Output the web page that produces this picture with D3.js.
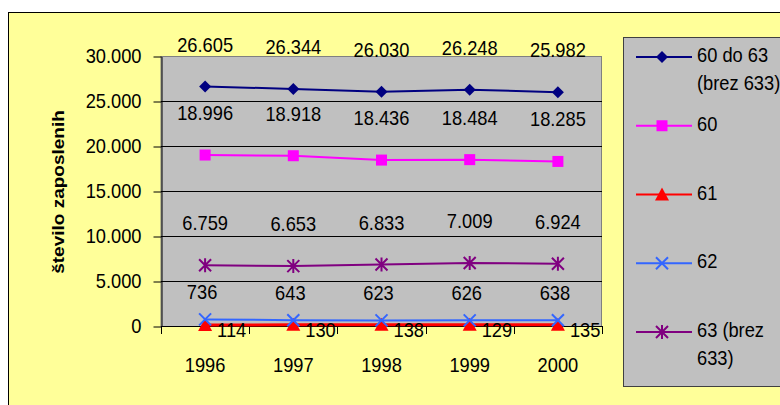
<!DOCTYPE html>
<html>
<head>
<meta charset="utf-8">
<script src="https://cdn.jsdelivr.net/npm/d3@7"></script>
<style>
  body { margin: 0; background: #fff; }
  text { font-family: "Liberation Sans", Arial, sans-serif; }
</style>
</head>
<body>
<div id="chart"></div>
<script>
const years = ["1996", "1997", "1998", "1999", "2000"];
const s6063 = [26605, 26344, 26030, 26248, 25982];
const s60 = [18996, 18918, 18436, 18484, 18285];
const s61 = [114, 130, 138, 129, 135];
const s62 = [736, 643, 623, 626, 638];
const s63 = [6759, 6653, 6833, 7009, 6924];
const yTicks = [0, 5000, 10000, 15000, 20000, 25000, 30000];
const seriesNames = [["60 do 63", "(brez 633)"], ["60"], ["61"], ["62"], ["63 (brez", "633)"]];

const fmt = d3.formatLocale({ decimal: ",", thousands: ".", grouping: [3], currency: ["", ""] }).format(",d");

const W = 780, H = 405;
const plot = { left: 161, right: 602, top: 56, bottom: 326 };
const SQ = 0.87; // the original text is a bit narrow

// move x/y into a transform so the glyphs can be squeezed
function squash(sel) {
  sel.each(function () {
    const t = d3.select(this);
    const tx = +t.attr("x") || 0, ty = +t.attr("y") || 0;
    t.attr("x", 0).attr("y", 0).attr("transform", `translate(${tx},${ty}) scale(${SQ},1)`);
  });
}

const svg = d3.select("#chart").append("svg")
  .attr("width", W)
  .attr("height", H);

// outer chart area
svg.append("rect")
  .attr("x", 8.5).attr("y", 12.5)
  .attr("width", 800).attr("height", 420)
  .attr("fill", "#FFFF99")
  .attr("stroke", "#000");

const x = d3.scaleBand().domain(years).range([plot.left, plot.right]);
const y = d3.scaleLinear().domain([0, 30000]).range([plot.bottom, plot.top]);

svg.append("rect")
  .attr("x", plot.left).attr("y", plot.top + 0.5)
  .attr("width", plot.right - plot.left - 0.5)
  .attr("height", plot.bottom - plot.top)
  .attr("fill", "#C0C0C0")
  .attr("stroke", "#808080");

// gridlines
svg.append("g")
  .selectAll("line")
  .data(yTicks.filter((d) => d > 0 && d < 30000))
  .enter()
  .append("line")
  .attr("x1", plot.left).attr("x2", plot.right)
  .attr("y1", (d) => Math.round(y(d)) + 0.5)
  .attr("y2", (d) => Math.round(y(d)) + 0.5)
  .attr("stroke", "#000");

// y axis
const yAxis = svg.append("g")
  .attr("transform", `translate(${plot.left + 0.5},0.5)`)
  .call(d3.axisLeft(y).tickValues(yTicks).tickSize(8).tickSizeOuter(0).tickPadding(12).tickFormat(fmt));
yAxis.selectAll("text")
  .style("font-family", "'Liberation Sans', Arial, sans-serif")
  .style("font-size", "21px")
  .attr("dy", "0.3em")
  .attr("fill", "#000")
  .call(squash);
yAxis.select(".domain").attr("stroke", "#000");

// x axis
const xg = svg.append("g");
xg.append("line")
  .attr("x1", plot.left).attr("x2", plot.right)
  .attr("y1", plot.bottom + 0.5).attr("y2", plot.bottom + 0.5)
  .attr("stroke", "#000");
xg.selectAll(".xt")
  .data(years.concat(["end"]))
  .enter()
  .append("line")
  .attr("x1", (d, i) => Math.round(plot.left + i * x.step()) + 0.5)
  .attr("x2", (d, i) => Math.round(plot.left + i * x.step()) + 0.5)
  .attr("y1", plot.bottom).attr("y2", plot.bottom + 8)
  .attr("stroke", "#000");
xg.selectAll(".xl")
  .data(years)
  .enter()
  .append("text")
  .attr("x", (d) => x(d) + x.bandwidth() / 2)
  .attr("y", 372)
  .attr("text-anchor", "middle")
  .style("font-size", "21px")
  .text((d) => d)
  .call(squash);

// y title
svg.append("text")
  .attr("transform", `translate(64,192) scale(${SQ},1) rotate(-90)`)
  .attr("text-anchor", "middle")
  .style("font-size", "19px")
  .style("font-weight", "bold")
  .text("število zaposlenih");

const cx = (i) => x(years[i]) + x.bandwidth() / 2;

const series = [
  { values: s6063, color: "#000080", marker: "diamond", width: 2, lab: { dx: 0, dy: -35, anchor: "middle" } },
  { values: s60, color: "#FF00FF", marker: "square", width: 2, lab: { dx: 0, dy: -35, anchor: "middle" } },
  { values: s61, color: "#FF0000", marker: "triangle", width: 3, lab: { dx: 12, dy: 12, anchor: "start" } },
  { values: s62, color: "#3366FF", marker: "x", width: 2, lab: { dx: -3, dy: -20, anchor: "middle" } },
  { values: s63, color: "#800080", marker: "star", width: 2, lab: { dx: 0, dy: -35, anchor: "middle" } },
];

function drawMarker(g, type, color) {
  if (type === "diamond") {
    g.append("path").attr("d", "M0,-6L6,0L0,6L-6,0Z").attr("fill", color);
  } else if (type === "square") {
    g.append("rect").attr("x", -5.5).attr("y", -5.5).attr("width", 11).attr("height", 11).attr("fill", color);
  } else if (type === "triangle") {
    g.append("path").attr("d", "M0,-7L7,6L-7,6Z").attr("fill", color);
  } else if (type === "x") {
    g.append("path").attr("d", "M-6,-6L6,6M6,-6L-6,6").attr("stroke", color).attr("stroke-width", 2);
  } else if (type === "star") {
    g.append("path").attr("d", "M-6,-6L6,6M6,-6L-6,6M0,-7L0,7").attr("stroke", color).attr("stroke-width", 2);
  }
}

const line = d3.line().x((d, i) => cx(i)).y((d) => y(d));

series.forEach((s) => {
  svg.append("path")
    .datum(s.values)
    .attr("d", line)
    .attr("fill", "none")
    .attr("stroke", s.color)
    .attr("stroke-width", s.width);
  s.values.forEach((v, i) => {
    const g = svg.append("g").attr("transform", `translate(${cx(i)},${y(v)})`);
    drawMarker(g, s.marker, s.color);
  });
});

// data labels
series.forEach((s) => {
  svg.append("g")
    .selectAll("text")
    .data(s.values)
    .enter()
    .append("text")
    .attr("x", (d, i) => cx(i) + s.lab.dx)
    .attr("y", (d) => y(d) + s.lab.dy)
    .attr("text-anchor", s.lab.anchor)
    .style("font-size", "21px")
    .text((d) => fmt(d))
    .call(squash);
});

// legend
svg.append("rect")
  .attr("x", 623.5).attr("y", 37.5)
  .attr("width", 200).attr("height", 349)
  .attr("fill", "#C0C0C0")
  .attr("stroke", "#404040");

const legend = svg.selectAll(".legend")
  .data(series)
  .enter()
  .append("g")
  .attr("transform", (d, i) => `translate(636,${57 + i * 68.75})`);

legend.append("line")
  .attr("x1", 0).attr("x2", 56)
  .attr("stroke", (d) => d.color)
  .attr("stroke-width", 2);
legend.each(function (d) {
  const g = d3.select(this).append("g").attr("transform", "translate(26,0)");
  drawMarker(g, d.marker, d.color);
});
legend.append("text")
  .attr("transform", `translate(61,5) scale(${SQ},1)`)
  .style("font-size", "21px")
  .selectAll("tspan")
  .data((d, i) => seriesNames[i])
  .enter()
  .append("tspan")
  .attr("x", 0)
  .attr("dy", (d, i) => (i === 0 ? 0 : 28))
  .text((d) => d);
</script>
</body>
</html>
